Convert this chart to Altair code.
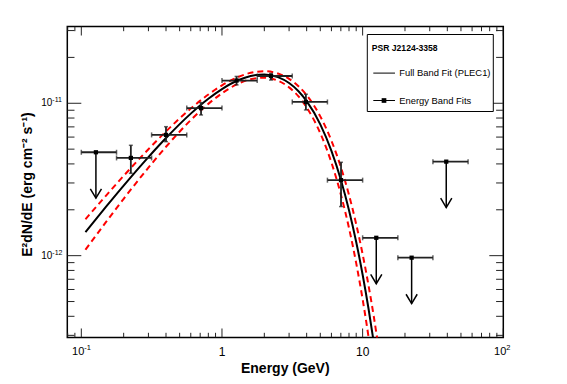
import altair as alt
import pandas as pd

# ---------------- data ----------------
# Energy band fits (GeV) and E^2 dN/dE (erg cm^-2 s^-1)
E_center = [0.127, 0.225, 0.40, 0.71, 1.27, 2.23, 3.95, 7.02, 12.5, 22.3, 39.3]
E_lo = [0.1, 0.178, 0.316, 0.562, 1.0, 1.78, 3.16, 5.62, 10.0, 17.8, 31.6]
E_hi = [0.178, 0.316, 0.562, 1.0, 1.78, 3.16, 5.62, 10.0, 17.8, 31.6, 56.2]
flux = [4.77e-12, 4.38e-12, 6.2e-12, 9.3e-12, 1.41e-11, 1.51e-11, 1.02e-11,
        3.13e-12, 1.31e-12, 9.7e-13, 4.14e-12]
flux_lo = [None, 3.47e-12, 5.6e-12, 8.38e-12, 1.32e-11, 1.42e-11, 9.04e-12,
           2.1e-12, None, None, None]
flux_hi = [None, 5.3e-12, 7.02e-12, 1.01e-11, 1.50e-11, 1.57e-11, 1.146e-11,
           4.1e-12, None, None, None]
upper_limit = [True, False, False, False, False, False, False, False, True, True, True]

# Full band fit (PLEC1) and its two error curves
E_grid = [0.107, 0.15, 0.2, 0.3, 0.4, 0.6, 0.8, 1.0, 1.3, 1.6, 2.0, 2.5, 3.0,
          3.5, 4.0, 5.0, 6.0, 7.0, 8.0, 9.0, 10.0, 11.0, 12.0, 13.0]
fit = [1.427e-12, 2.096e-12, 2.883e-12, 4.434e-12, 5.913e-12, 8.553e-12,
       1.071e-11, 1.240e-11, 1.416e-11, 1.512e-11, 1.546e-11, 1.485e-11,
       1.358e-11, 1.200e-11, 1.033e-11, 7.272e-12, 4.868e-12, 3.149e-12,
       1.987e-12, 1.230e-12, 7.499e-13, 4.517e-13, 2.693e-13, 1.591e-13]
fit_hi = [1.733e-12, 2.480e-12, 3.341e-12, 4.995e-12, 6.539e-12, 9.239e-12,
          1.141e-11, 1.311e-11, 1.486e-11, 1.584e-11, 1.622e-11, 1.568e-11,
          1.447e-11, 1.294e-11, 1.130e-11, 8.204e-12, 5.684e-12, 3.814e-12,
          2.500e-12, 1.609e-12, 1.022e-12, 6.417e-13, 3.991e-13, 2.462e-13]
fit_lo = [1.094e-12, 1.665e-12, 2.360e-12, 3.781e-12, 5.183e-12, 7.751e-12,
          9.911e-12, 1.163e-11, 1.342e-11, 1.440e-11, 1.473e-11, 1.406e-11,
          1.272e-11, 1.109e-11, 9.393e-12, 6.364e-12, 4.083e-12, 2.522e-12,
          1.517e-12, 8.928e-13, 5.170e-13, 2.954e-13, 1.669e-13, 9.34e-14]

# axis ticks and labels
x_major = [0.1, 1, 10, 100]
x_minor = [0.08, 0.09, 0.2, 0.3, 0.4, 0.5, 0.6, 0.7, 0.8, 0.9,
           2, 3, 4, 5, 6, 7, 8, 9, 20, 30, 40, 50, 60, 70, 80, 90]
y_major = [1e-12, 1e-11]
y_minor = [3e-13, 4e-13, 5e-13, 6e-13, 7e-13, 8e-13, 9e-13,
           2e-12, 3e-12, 4e-12, 5e-12, 6e-12, 7e-12, 8e-12, 9e-12, 2e-11, 3e-11]
x_plain_vals = [1, 10]
x_plain_text = ["1", "10"]
x_exp_vals = [0.1, 100]
x_exp_text = ["-1", "2"]
y_exp_vals = [1e-12, 1e-11]
y_exp_text = ["-12", "-11"]

x_title = "Energy (GeV)"
y_title = "E²dN/dE (erg cm⁻² s⁻¹)"
legend_title = "PSR J2124-3358"
legend_fit = "Full Band Fit (PLEC1)"
legend_bands = "Energy Band Fits"

# ---------------- chart ----------------
W, H = 436, 311
FONT = "Liberation Sans"
xs = alt.Scale(type="log", domain=[0.0795, 100], nice=False, zero=False)
ys = alt.Scale(type="log", domain=[2.904e-13, 3.19e-11], nice=False, zero=False)


def X(f):
    return alt.X(f, type="quantitative", scale=xs, axis=None)


def Y(f):
    return alt.Y(f, type="quantitative", scale=ys, axis=None)


pts = pd.DataFrame({"E": E_center, "E_lo": E_lo, "E_hi": E_hi, "flux": flux,
                    "flux_lo": flux_lo, "flux_hi": flux_hi, "ul": upper_limit})
det = pts[~pts["ul"]].copy()
ul = pts[pts["ul"]].copy()
ul["tip"] = ul["flux"] * 0.5

curves = pd.DataFrame({"E": E_grid, "fit": fit, "hi": fit_hi, "lo": fit_lo})

ERR = "#222222"
layers = []

# curves
layers.append(alt.Chart(curves).mark_line(color="black", strokeWidth=2, clip=True,
                                          interpolate="monotone")
              .encode(x=X("E"), y=Y("fit")))
for col in ["hi", "lo"]:
    layers.append(alt.Chart(curves).mark_line(color="#ff0000", strokeWidth=2, clip=True,
                                              strokeDash=[6, 4], interpolate="monotone")
                  .encode(x=X("E"), y=Y(col)))

# horizontal bars + end caps
layers.append(alt.Chart(pts).mark_rule(color=ERR, strokeWidth=1.8)
              .encode(x=X("E_lo"), x2="E_hi", y=Y("flux")))
for col in ["E_lo", "E_hi"]:
    layers.append(alt.Chart(pts).mark_tick(orient="vertical", size=5, thickness=1.5, color=ERR)
                  .encode(x=X(col), y=Y("flux")))

# vertical error bars + caps
layers.append(alt.Chart(det).mark_rule(color=ERR, strokeWidth=1.8)
              .encode(x=X("E"), y=Y("flux_lo"), y2="flux_hi"))
for col in ["flux_lo", "flux_hi"]:
    layers.append(alt.Chart(det).mark_tick(orient="horizontal", size=4, thickness=1.5, color=ERR)
                  .encode(x=X("E"), y=Y(col)))

# upper-limit arrows
layers.append(alt.Chart(ul).mark_rule(color="black", strokeWidth=1.5)
              .encode(x=X("E"), y=Y("flux"), y2="tip"))
layers.append(alt.Chart(ul).mark_point(shape="M-0.6,-1L0,0L0.6,-1", size=346, filled=False,
                                       strokeWidth=1.5, color="black", opacity=1)
              .encode(x=X("E"), y=Y("tip")))

# markers
layers.append(alt.Chart(pts).mark_square(size=18, color="black", opacity=1)
              .encode(x=X("E"), y=Y("flux")))

# ticks (inside the frame, on all four sides)
xmaj = pd.DataFrame({"v": x_major})
xmin = pd.DataFrame({"v": x_minor})
ymaj = pd.DataFrame({"v": y_major})
ymin = pd.DataFrame({"v": y_minor})
TK = dict(color="#222222", strokeWidth=1, clip=True)
for df, ln in [(xmaj, 9), (xmin, 4.7)]:
    layers.append(alt.Chart(df).mark_rule(**TK).encode(x=X("v"), y=alt.value(H), y2=alt.value(H - ln)))
    layers.append(alt.Chart(df).mark_rule(**TK).encode(x=X("v"), y=alt.value(0), y2=alt.value(ln)))
for df, ln in [(ymaj, 14), (ymin, 7.2)]:
    layers.append(alt.Chart(df).mark_rule(**TK).encode(y=Y("v"), x=alt.value(0), x2=alt.value(ln)))
    layers.append(alt.Chart(df).mark_rule(**TK).encode(y=Y("v"), x=alt.value(W), x2=alt.value(W - ln)))

# tick labels
xp = pd.DataFrame({"v": x_plain_vals, "t": x_plain_text})
layers.append(alt.Chart(xp).mark_text(font=FONT, fontSize=12, align="center", baseline="middle",
                                      color="black")
              .encode(x=X("v"), y=alt.value(H + 14.5), text="t:N"))
xe = pd.DataFrame({"v": x_exp_vals, "t": x_exp_text})
layers.append(alt.Chart(xe).mark_text(font=FONT, fontSize=11, align="right", baseline="middle",
                                      dx=3, color="black", text="10")
              .encode(x=X("v"), y=alt.value(H + 15)))
layers.append(alt.Chart(xe).mark_text(font=FONT, fontSize=7.5, align="left", baseline="middle",
                                      dx=3, color="black")
              .encode(x=X("v"), y=alt.value(H + 11), text="t:N"))
ye = pd.DataFrame({"v": y_exp_vals, "t": y_exp_text})
layers.append(alt.Chart(ye).mark_text(font=FONT, fontSize=10, align="right", baseline="middle",
                                      color="black", text="10")
              .encode(y=Y("v"), x=alt.value(-15)))
layers.append(alt.Chart(ye).mark_text(font=FONT, fontSize=7, align="left", baseline="middle",
                                      dy=-3, color="black")
              .encode(y=Y("v"), x=alt.value(-15), text="t:N"))

# axis titles
one = pd.DataFrame({"k": [0]})
layers.append(alt.Chart(one).mark_text(font=FONT, fontSize=14, fontWeight="bold", align="center",
                                       baseline="middle", color="black", text=x_title)
              .encode(x=alt.value(W / 2), y=alt.value(H + 32)))
layers.append(alt.Chart(one).mark_text(font=FONT, fontSize=14, fontWeight="bold", align="center",
                                       baseline="middle", color="black", angle=270, text=y_title)
              .encode(x=alt.value(-39), y=alt.value(158)))

# legend box
layers.append(alt.Chart(one).mark_rect(fill="white", stroke="black", strokeWidth=1)
              .encode(x=alt.value(300), x2=alt.value(426), y=alt.value(8), y2=alt.value(85)))
layers.append(alt.Chart(one).mark_text(font=FONT, fontSize=8.6, fontWeight="bold", align="left",
                                       baseline="middle", color="black", text=legend_title)
              .encode(x=alt.value(304.5), y=alt.value(21.6)))
layers.append(alt.Chart(one).mark_rule(color="black", strokeWidth=1)
              .encode(x=alt.value(306), x2=alt.value(327.7), y=alt.value(46.6)))
layers.append(alt.Chart(one).mark_text(font=FONT, fontSize=9.4, align="left",
                                       baseline="middle", color="black", text=legend_fit)
              .encode(x=alt.value(332), y=alt.value(46.6)))
layers.append(alt.Chart(one).mark_rule(color="black", strokeWidth=1)
              .encode(x=alt.value(306), x2=alt.value(327.7), y=alt.value(74)))
layers.append(alt.Chart(one).mark_square(size=22, color="black", opacity=1)
              .encode(x=alt.value(316.7), y=alt.value(74)))
layers.append(alt.Chart(one).mark_text(font=FONT, fontSize=9.4, align="left",
                                       baseline="middle", color="black", text=legend_bands)
              .encode(x=alt.value(332), y=alt.value(74)))

chart = alt.layer(*layers).properties(
    width=W, height=H,
    autosize=alt.AutoSizeParams(type="none"),
    padding={"left": 59.3, "top": 18.5, "right": 55, "bottom": 45},
    background="white",
).configure_view(stroke="black", strokeWidth=1.5)

chart.save("out.html", embed_options={"renderer": "svg", "actions": False})
